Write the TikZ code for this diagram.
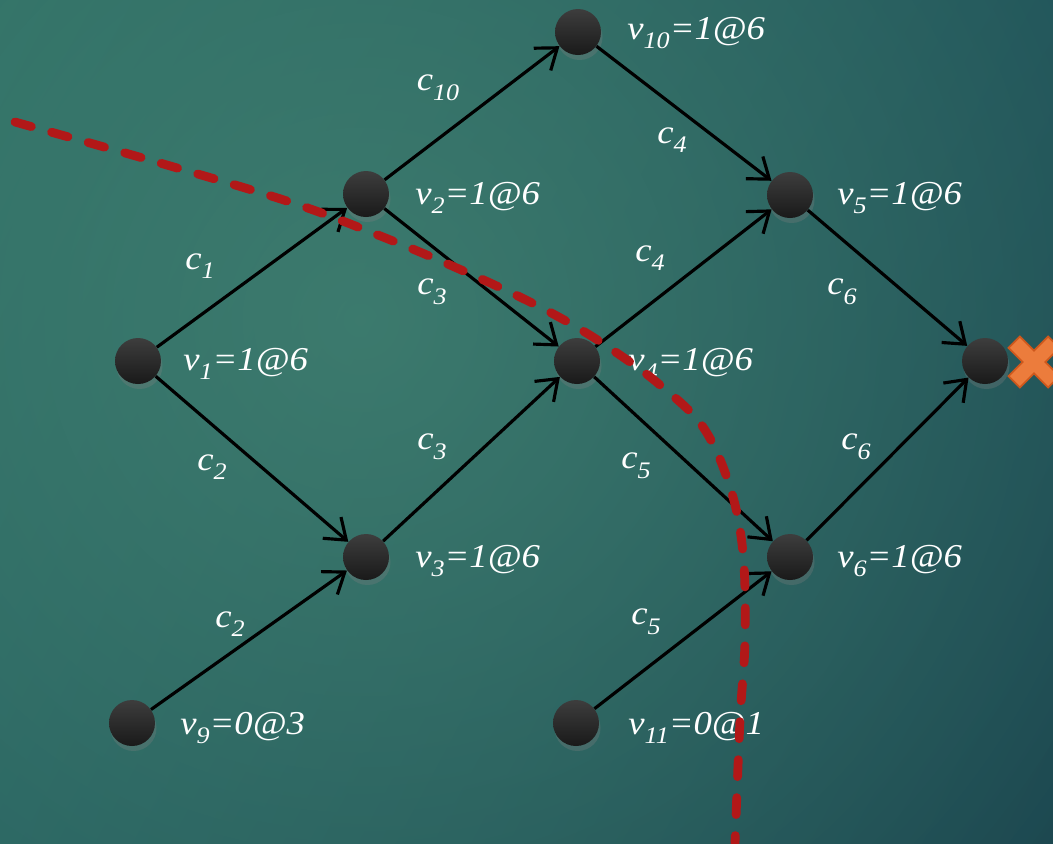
\documentclass[tikz,border=0pt]{standalone}
\usepackage{fontspec}
\setmainfont{Liberation Serif}
\usetikzlibrary{arrows.meta,shadows,shadings,fadings}
\newcommand{\lsub}[1]{\raisebox{-5.5pt}{\fontsize{13.5}{13.5}\selectfont #1}}
\tikzfading[name=glowfade,inner color=transparent!0,outer color=transparent!100]

\begin{document}
\begin{tikzpicture}[x=0.02cm,y=-0.02cm,>={Straight Barb[length=3.8mm,width=5.6mm]},
  vert/.style={circle,top color=black!76,bottom color=black!90,draw=none,minimum size=0.92cm,inner sep=0pt,
    drop shadow={opacity=0.3,shadow xshift=0.3mm,shadow yshift=-1mm}},
  vlab/.style={anchor=west,white,inner sep=0pt,font=\fontsize{19}{22}\selectfont\addfontfeature{FakeStretch=1.1}\itshape},
  clab/.style={white,inner sep=0pt,font=\fontsize{19}{22}\selectfont\addfontfeature{FakeStretch=1.1}\itshape},
  edge/.style={->,line width=1.8pt,black}]
\definecolor{bgA}{RGB}{44,108,100}\definecolor{bgB}{RGB}{30,80,88}
\definecolor{bgC}{RGB}{38,96,96}\definecolor{bgD}{RGB}{26,68,78}
\definecolor{bgGlow}{RGB}{68,132,115}
\definecolor{cutred}{RGB}{178,24,24}
\definecolor{xfill}{RGB}{236,124,60}\definecolor{xline}{RGB}{206,88,28}
% background
\shade[upper left=bgA,upper right=bgB,lower left=bgC,lower right=bgD] (0,0) rectangle (1053,843);
\begin{scope}
\clip (0,0) rectangle (1053,843);
\fill[bgGlow,path fading=glowfade,fill opacity=0.75] (360,320) circle (950);
\end{scope}
\useasboundingbox (0,0) rectangle (1053,843);
% vertices
\node[vert] (v10) at (578,32) {};
\node[vert] (v2) at (366,194) {};
\node[vert] (v5) at (790,195) {};
\node[vert] (v1) at (138,361) {};
\node[vert] (v4) at (577,361) {};
\node[vert] (sink) at (985,361) {};
\node[vert] (v3) at (366,557) {};
\node[vert] (v6) at (790,557) {};
\node[vert] (v9) at (132,723) {};
\node[vert] (v11) at (576,723) {};
% vertex labels
\node[vlab] (l10) at (627,33) {v\lsub{10}=1@6};
\node[vlab] (l2) at (415,198) {v\lsub{2}=1@6};
\node[vlab] (l5) at (837,198) {v\lsub{5}=1@6};
\node[vlab] (l1) at (183,364) {v\lsub{1}=1@6};
\node[vlab] (l4) at (628,364) {v\lsub{4}=1@6};
\node[vlab] (l3) at (415,561) {v\lsub{3}=1@6};
\node[vlab] (l6) at (837,561) {v\lsub{6}=1@6};
\node[vlab] (l9) at (180,728) {v\lsub{9}=0@3};
\node[vlab] (l11) at (628,728) {v\lsub{11}=0@1};
% edges
\draw[edge] (v1)--(v2); \draw[edge] (v1)--(v3);
\draw[edge] (v2)--(v10); \draw[edge] (v2)--(v4);
\draw[edge] (v10)--(v5); \draw[edge] (v3)--(v4);
\draw[edge] (v4)--(v5); \draw[edge] (v4)--(v6);
\draw[edge] (v5)--(sink); \draw[edge] (v6)--(sink);
\draw[edge] (v9)--(v3); \draw[edge] (v11)--(v6);
% edge labels
\node[clab] (e10) at (438,88) {c\lsub{10}};
\node[clab] (e4a) at (672,140) {c\lsub{4}};
\node[clab] (e1) at (200,266) {c\lsub{1}};
\node[clab] (e3a) at (432,292) {c\lsub{3}};
\node[clab] (e4b) at (650,258) {c\lsub{4}};
\node[clab] (e6a) at (842,292) {c\lsub{6}};
\node[clab] (e3b) at (432,447) {c\lsub{3}};
\node[clab] (e2a) at (212,467) {c\lsub{2}};
\node[clab] (e5a) at (636,466) {c\lsub{5}};
\node[clab] (e6b) at (856,447) {c\lsub{6}};
\node[clab] (e2b) at (230,624) {c\lsub{2}};
\node[clab] (e5b) at (646,622) {c\lsub{5}};
% cut
\draw[cutred,line width=5pt,line cap=round,dash pattern=on 0.34cm off 0.42cm]
  plot[smooth,tension=0.6] coordinates {(15,122) (160,163) (293,203) (383,237) (450,265)
  (520,297) (573,325) (617,353) (660,385) (703,427) (730,487) (743,553) (745,640) (740,720) (735,843)};
% failed sink
\begin{scope}[shift={(1034,362)},rotate=45]
\filldraw[fill=xfill,draw=xline,line width=1pt] (8,8)--(8,28)--(-8,28)--(-8,8)--(-28,8)--(-28,-8)--(-8,-8)
  --(-8,-28)--(8,-28)--(8,-8)--(28,-8)--(28,8)--cycle;
\end{scope}
\end{tikzpicture}
\end{document}
